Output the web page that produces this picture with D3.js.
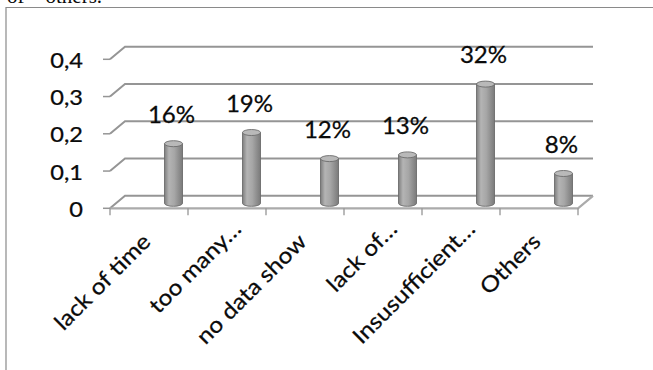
<!DOCTYPE html>
<html>
<head>
<meta charset="utf-8">
<script src="https://cdn.jsdelivr.net/npm/d3@7"></script>
<style>
  html, body { margin: 0; padding: 0; background: #fff; }
  svg { display: block; }
  text { font-family: Lato, "Open Sans", sans-serif; fill: #0a0a0a; stroke: #0a0a0a; stroke-width: 0.25px; }
</style>
</head>
<body>
<svg id="chart" width="653" height="370"></svg>
<script>
// Survey answers: obstacles reported
const categories = ["lack of time", "too many…", "no data show", "lack of…", "Insusufficient…", "Others"];
const values = [0.16, 0.19, 0.12, 0.13, 0.32, 0.08];
const yTicks = [0, 0.1, 0.2, 0.3, 0.4];

const svg = d3.select("#chart");
const W = 653, H = 370;

// comma as decimal separator for the value axis
const locale = d3.formatLocale({ decimal: ",", thousands: ".", grouping: [3], currency: ["", ""] });
const fmtAxis = v => v === 0 ? "0" : locale.format(".1f")(v);
const fmtPct = d3.format(".0%");

// the chart font is set a little wider than Lato's natural width
const widen = 1.15;

// oblique 3D projection: depth shifts right and up
const depthX = 15, depthY = -12.5;

const x = d3.scaleBand().domain(categories).range([110, 578]).paddingInner(0).paddingOuter(0);
const y = d3.scaleLinear().domain([0, 0.4]).range([208.3, 59.3]);

// fragment of surrounding text above the frame
svg.append("text")
  .attr("x", 7).attr("y", 3)
  .style("font-family", "'Liberation Serif', serif")
  .style("font-size", "21px")
  .style("stroke", "none")
  .text("of – others.");

// outer frame
svg.append("path")
  .attr("d", `M6,${H} L6,7.5 L${W},7.5`)
  .attr("fill", "none").attr("stroke", "#8a8a8a").attr("stroke-width", 1.2);

const grid = svg.append("g");
const x0 = x.range()[0], x1 = x.range()[1];

// side-wall and back-wall gridlines
yTicks.forEach(t => {
  const yf = y(t), yb = y(t) + depthY;
  grid.append("path")
    .attr("d", `M${x0},${yf} L${x0 + depthX},${yb} L${x1 + depthX},${yb}`)
    .attr("fill", "none").attr("stroke", "#959595").attr("stroke-width", 2);
  grid.append("line")
    .attr("x1", x0 - 7).attr("x2", x0).attr("y1", yf).attr("y2", yf)
    .attr("stroke", "#959595").attr("stroke-width", 1.5);
});

// floor front and right edges
grid.append("path")
  .attr("d", `M${x0},${y(0)} L${x1},${y(0)} L${x1 + depthX},${y(0) + depthY}`)
  .attr("fill", "none").attr("stroke", "#ababab").attr("stroke-width", 2.2);

// category tick marks at band edges
const edges = categories.map(c => x(c)).concat([x1]);
grid.selectAll(".ctick").data(edges).join("line")
  .attr("class", "ctick")
  .attr("x1", d => d).attr("x2", d => d)
  .attr("y1", y(0)).attr("y2", y(0) + 7)
  .attr("stroke", "#959595").attr("stroke-width", 1.3);

// value axis labels
svg.selectAll(".ylab").data(yTicks).join("text")
  .attr("class", "ylab")
  .attr("transform", d => `translate(83,${y(d) + 1.5}) scale(${widen},1)`)
  .attr("dy", "0.35em")
  .attr("text-anchor", "end")
  .style("font-size", "20.5px")
  .text(fmtAxis);

// cylinders
const defs = svg.append("defs");
const grad = defs.append("linearGradient").attr("id", "cyl").attr("x1", "0%").attr("x2", "100%");
[[0, "#7e7e7e"], [0.25, "#b4b4b4"], [0.55, "#a6a6a6"], [1, "#7a7a7a"]]
  .forEach(([o, c]) => grad.append("stop").attr("offset", o).attr("stop-color", c));

const barW = 18, rx = barW / 2, ry = 3;
const barShift = 24.5;              // bar centre offset into the depth of the floor
const baseY = y(0) + depthY * 0.4;

const bars = svg.append("g").selectAll("g").data(categories.map((c, i) => ({ c, v: values[i] }))).join("g");
bars.each(function (d) {
  const g = d3.select(this);
  const cx = x(d.c) + x.bandwidth() / 2 + barShift;
  const top = baseY - (y(0) - y(d.v));
  g.append("path")
    .attr("d", `M${cx - rx},${top} L${cx - rx},${baseY} A${rx},${ry} 0 0 0 ${cx + rx},${baseY} L${cx + rx},${top} Z`)
    .attr("fill", "url(#cyl)").attr("stroke", "#6c6c6c").attr("stroke-width", 0.9);
  g.append("ellipse")
    .attr("cx", cx).attr("cy", top).attr("rx", rx).attr("ry", ry)
    .attr("fill", "#b9b9b9").attr("stroke", "#6c6c6c").attr("stroke-width", 0.9);
  // value label
  g.append("text")
    .attr("transform", `translate(${cx - 2},${top - 21}) scale(1.07,1)`)
    .attr("text-anchor", "middle")
    .style("font-size", "22.5px")
    .text(fmtPct(d.v));
});

// rotated category labels
svg.selectAll(".xlab").data(categories).join("text")
  .attr("class", "xlab")
  .attr("transform", c => `translate(${x(c) + x.bandwidth() / 2 + 3},243) rotate(-45) scale(1.12,1)`)
  .attr("dx", c => c.endsWith("…") ? 16 : 0)
  .attr("text-anchor", "end")
  .style("font-size", "22px")
  .text(c => c);
</script>
</body>
</html>
